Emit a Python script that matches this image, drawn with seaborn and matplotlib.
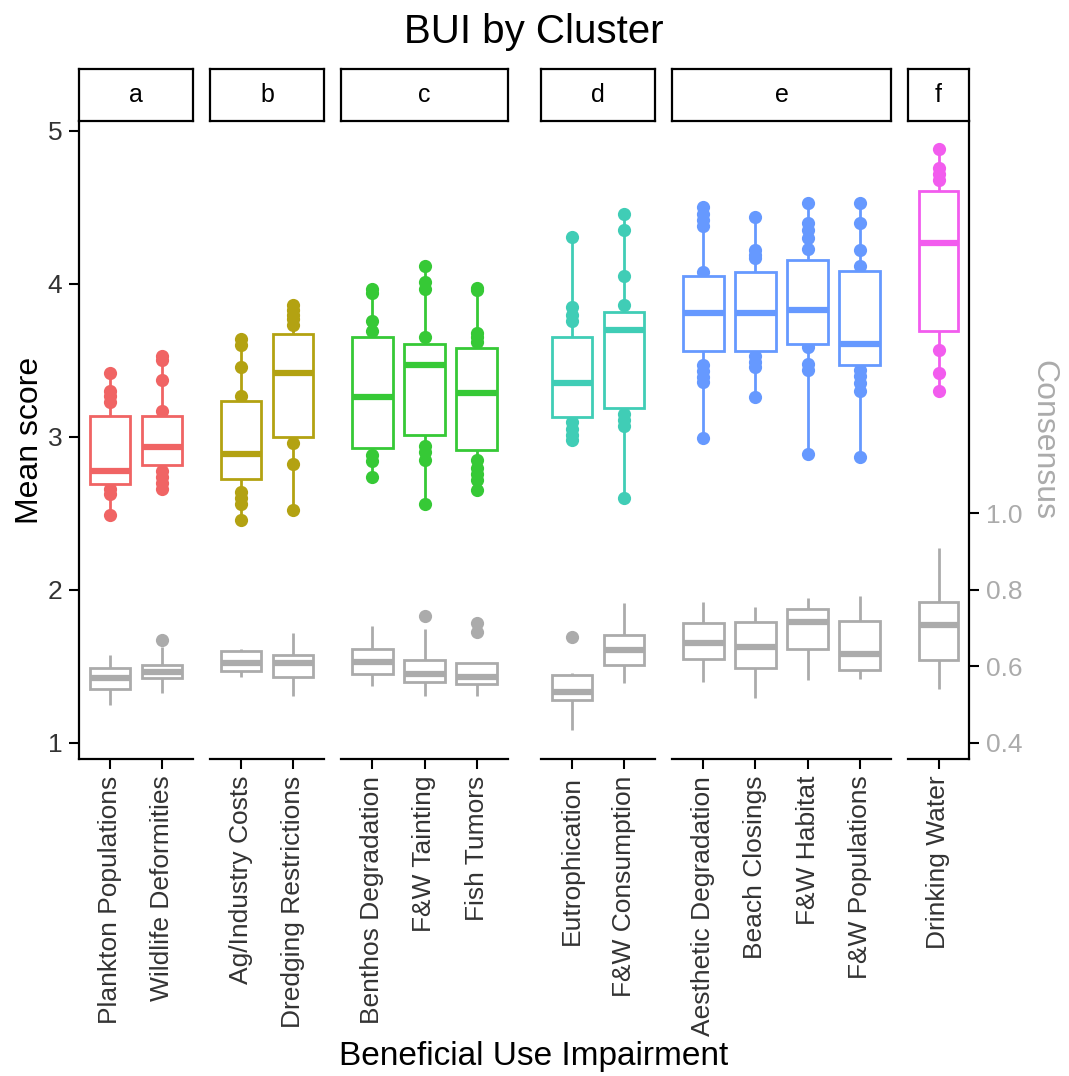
import matplotlib
matplotlib.use("Agg")
import matplotlib.pyplot as plt
import pandas as pd
import seaborn as sns

# beneficial use impairments, in plotting order, with their cluster
BUI = [
    "Plankton Populations", "Wildlife Deformities",
    "Ag/Industry Costs", "Dredging Restrictions",
    "Benthos Degradation", "F&W Tainting", "Fish Tumors",
    "Eutrophication", "F&W Consumption",
    "Aesthetic Degradation", "Beach Closings", "F&W Habitat", "F&W Populations",
    "Drinking Water",
]
CLUSTER = ["a", "a", "b", "b", "c", "c", "c", "d", "d", "e", "e", "e", "e", "f"]

# mean score: five-number summary per BUI (whisker low, Q1, median, Q3, whisker high)
SCORE_LO = [2.49, 2.66, 2.46, 2.52, 2.74, 2.56, 2.65, 2.98, 2.60, 2.99, 3.26, 2.89, 2.87, 3.30]
SCORE_Q1 = [2.69, 2.815, 2.725, 3.00, 2.925, 3.01, 2.915, 3.13, 3.19, 3.56, 3.56, 3.61, 3.47, 3.69]
SCORE_MED = [2.78, 2.935, 2.89, 3.415, 3.26, 3.47, 3.285, 3.35, 3.70, 3.81, 3.81, 3.83, 3.61, 4.27]
SCORE_Q3 = [3.135, 3.135, 3.235, 3.675, 3.655, 3.61, 3.58, 3.655, 3.815, 4.05, 4.08, 4.155, 4.085, 4.61]
SCORE_HI = [3.42, 3.53, 3.64, 3.86, 3.97, 4.12, 3.975, 4.31, 4.46, 4.50, 4.44, 4.53, 4.53, 4.88]

# individual mean scores visible outside the boxes
SCORE_POINTS = [
    [3.42, 3.30, 3.27, 3.23, 2.66, 2.63, 2.49],
    [3.53, 3.50, 3.37, 3.17, 2.78, 2.74, 2.70, 2.66],
    [3.64, 3.60, 3.46, 3.27, 2.64, 2.60, 2.56, 2.46],
    [3.86, 3.83, 3.80, 3.77, 3.73, 2.96, 2.82, 2.52],
    [3.97, 3.94, 3.76, 3.69, 2.88, 2.84, 2.74],
    [4.12, 4.01, 3.97, 3.65, 2.94, 2.90, 2.85, 2.56],
    [3.975, 3.96, 3.68, 3.65, 3.62, 2.85, 2.80, 2.76, 2.72, 2.65],
    [4.31, 3.85, 3.80, 3.76, 3.10, 3.05, 3.01, 2.98],
    [4.46, 4.35, 4.05, 3.86, 3.15, 3.11, 3.07, 2.60],
    [4.50, 4.46, 4.42, 4.38, 4.08, 3.47, 3.43, 3.39, 3.36, 2.99],
    [4.44, 4.22, 4.19, 4.17, 3.53, 3.49, 3.46, 3.26],
    [4.53, 4.40, 4.35, 4.30, 4.23, 3.59, 3.48, 3.44, 2.89],
    [4.53, 4.40, 4.22, 4.12, 3.44, 3.40, 3.35, 3.30, 2.87],
    [4.88, 4.76, 4.72, 4.68, 3.57, 3.42, 3.30],
]

# consensus (secondary axis): five-number summary and outliers
CONS_LO = [0.499, 0.531, 0.573, 0.523, 0.550, 0.524, 0.524, 0.434, 0.556, 0.560, 0.517, 0.565, 0.567, 0.541]
CONS_Q1 = [0.541, 0.569, 0.589, 0.573, 0.579, 0.559, 0.554, 0.512, 0.604, 0.619, 0.597, 0.645, 0.591, 0.617]
CONS_MED = [0.571, 0.586, 0.608, 0.608, 0.612, 0.580, 0.573, 0.534, 0.642, 0.661, 0.652, 0.715, 0.633, 0.709]
CONS_Q3 = [0.595, 0.605, 0.641, 0.631, 0.646, 0.617, 0.608, 0.578, 0.681, 0.713, 0.716, 0.750, 0.719, 0.769]
CONS_HI = [0.630, 0.652, 0.646, 0.688, 0.705, 0.697, 0.608, 0.584, 0.767, 0.768, 0.756, 0.780, 0.783, 0.909]
CONS_OUT = [[], [0.669], [], [], [], [0.732], [0.713, 0.691], [0.676], [], [], [], [], [], []]

CLUSTERS = ["a", "b", "c", "d", "e", "f"]
CLUSTER_COLORS = {
    "a": "#F06464", "b": "#B3A212", "c": "#36C936",
    "d": "#40CDB6", "e": "#6699FF", "f": "#F25CEE",
}
CONS_COLOR = "#ABABAB"
CONS_SCALE = 2.5  # consensus 0.4 sits on mean score 1.0

# panel extents in pixels (left, right)
PANEL_PX = {"a": (79, 193), "b": (210, 324), "c": (341, 508),
            "d": (541, 655), "e": (672, 891), "f": (908, 969)}
W, H = 1069, 1076
PANEL_TOP, PANEL_BOTTOM = 121, 759
STRIP_TOP = 69


def five_number_long(lo, q1, med, q3, hi, scale=1.0):
    rows = []
    for i, name in enumerate(BUI):
        for v in (lo[i], q1[i], med[i], q3[i], hi[i]):
            rows.append({"bui": name, "cluster": CLUSTER[i], "value": v * scale})
    return pd.DataFrame(rows)


def points_long(points, scale=1.0):
    rows = []
    for i, name in enumerate(BUI):
        for v in points[i]:
            rows.append({"bui": name, "cluster": CLUSTER[i], "value": v * scale})
    return pd.DataFrame(rows, columns=["bui", "cluster", "value"])


def main():
    sns.set_theme(style="white")
    plt.rcParams["font.family"] = ["Liberation Sans", "DejaVu Sans"]

    score_box = five_number_long(SCORE_LO, SCORE_Q1, SCORE_MED, SCORE_Q3, SCORE_HI)
    score_pts = points_long(SCORE_POINTS)
    cons_box = five_number_long(CONS_LO, CONS_Q1, CONS_MED, CONS_Q3, CONS_HI, CONS_SCALE)
    cons_pts = points_long(CONS_OUT, CONS_SCALE)

    fig = plt.figure(figsize=(W / 100, H / 100), dpi=100)
    fig.patch.set_facecolor("white")

    for k, cl in enumerate(CLUSTERS):
        x0, x1 = PANEL_PX[cl]
        ax = fig.add_axes([x0 / W, 1 - PANEL_BOTTOM / H, (x1 - x0) / W, (PANEL_BOTTOM - PANEL_TOP) / H])
        order = [b for b, c in zip(BUI, CLUSTER) if c == cl]
        col = CLUSTER_COLORS[cl]

        pts = score_pts[score_pts["cluster"] == cl]
        sns.stripplot(data=pts, x="bui", y="value", order=order, jitter=False, color=col,
                      size=9.5, linewidth=0, ax=ax, zorder=1, legend=False)
        sns.boxplot(data=score_box[score_box["cluster"] == cl], x="bui", y="value", order=order,
                    whis=(0, 100), width=0.78, color="white", linecolor=col, linewidth=2,
                    showcaps=False, showfliers=False, medianprops={"linewidth": 4.5},
                    ax=ax, zorder=3)

        cpts = cons_pts[cons_pts["cluster"] == cl]
        if len(cpts):
            sns.stripplot(data=cpts, x="bui", y="value", order=order, jitter=False,
                          color=CONS_COLOR, size=9.5, linewidth=0, ax=ax, zorder=1, legend=False)
        sns.boxplot(data=cons_box[cons_box["cluster"] == cl], x="bui", y="value", order=order,
                    whis=(0, 100), width=0.78, color="white", linecolor=CONS_COLOR, linewidth=2,
                    showcaps=False, showfliers=False, medianprops={"linewidth": 4.5},
                    ax=ax, zorder=3)

        ax.set_xlim(-0.6, len(order) - 0.4)
        ax.set_ylim(0.895, 5.065)
        ax.set_xlabel("")
        ax.set_ylabel("")
        ax.set_yticks([1, 2, 3, 4, 5])
        for side in ("top", "right", "left"):
            ax.spines[side].set_visible(False)
        ax.spines["bottom"].set_linewidth(1.6)
        ax.spines["bottom"].set_color("black")
        ax.tick_params(axis="x", bottom=True, length=7, width=1.5, color="black",
                       labelsize=19, labelcolor="#333333", labelrotation=90, pad=5)
        if k == 0:
            ax.spines["left"].set_visible(True)
            ax.spines["left"].set_linewidth(1.6)
            ax.spines["left"].set_color("black")
            ax.tick_params(axis="y", left=True, length=7, width=1.5, color="black",
                           labelsize=19, labelcolor="#333333", pad=5)
        else:
            ax.tick_params(axis="y", left=False, labelleft=False)

        if cl == CLUSTERS[-1]:
            sec = ax.secondary_yaxis("right", functions=(lambda v: v / CONS_SCALE,
                                                         lambda c: c * CONS_SCALE))
            sec.set_yticks([0.4, 0.6, 0.8, 1.0])
            sec.spines["right"].set_linewidth(1.6)
            sec.spines["right"].set_color("black")
            sec.tick_params(length=7, width=1.5, color="black", labelsize=19,
                            labelcolor=CONS_COLOR, pad=5)

        # facet strip
        sax = fig.add_axes([x0 / W, 1 - PANEL_TOP / H, (x1 - x0) / W, (PANEL_TOP - STRIP_TOP) / H])
        sax.set_xticks([])
        sax.set_yticks([])
        for sp in sax.spines.values():
            sp.set_visible(True)
            sp.set_linewidth(1.6)
            sp.set_color("black")
        sax.text(0.5, 0.5, cl, ha="center", va="center", fontsize=18, color="black",
                 transform=sax.transAxes)

    fig.text(534 / W, 1 - 32 / H, "BUI by Cluster", ha="center", va="center",
             fontsize=29, color="black")
    fig.text(30 / W, 1 - 440 / H, "Mean score", ha="center", va="center", rotation=90,
             fontsize=23, color="black")
    fig.text(534 / W, 1 - 1057 / H, "Beneficial Use Impairment", ha="center", va="center",
             fontsize=24, color="black")
    fig.text(1043 / W, 1 - 440 / H, "Consensus", ha="center", va="center", rotation=270,
             fontsize=23, color=CONS_COLOR)

    fig.savefig("out.png", dpi=100, facecolor="white")
    plt.close(fig)


if __name__ == "__main__":
    main()
